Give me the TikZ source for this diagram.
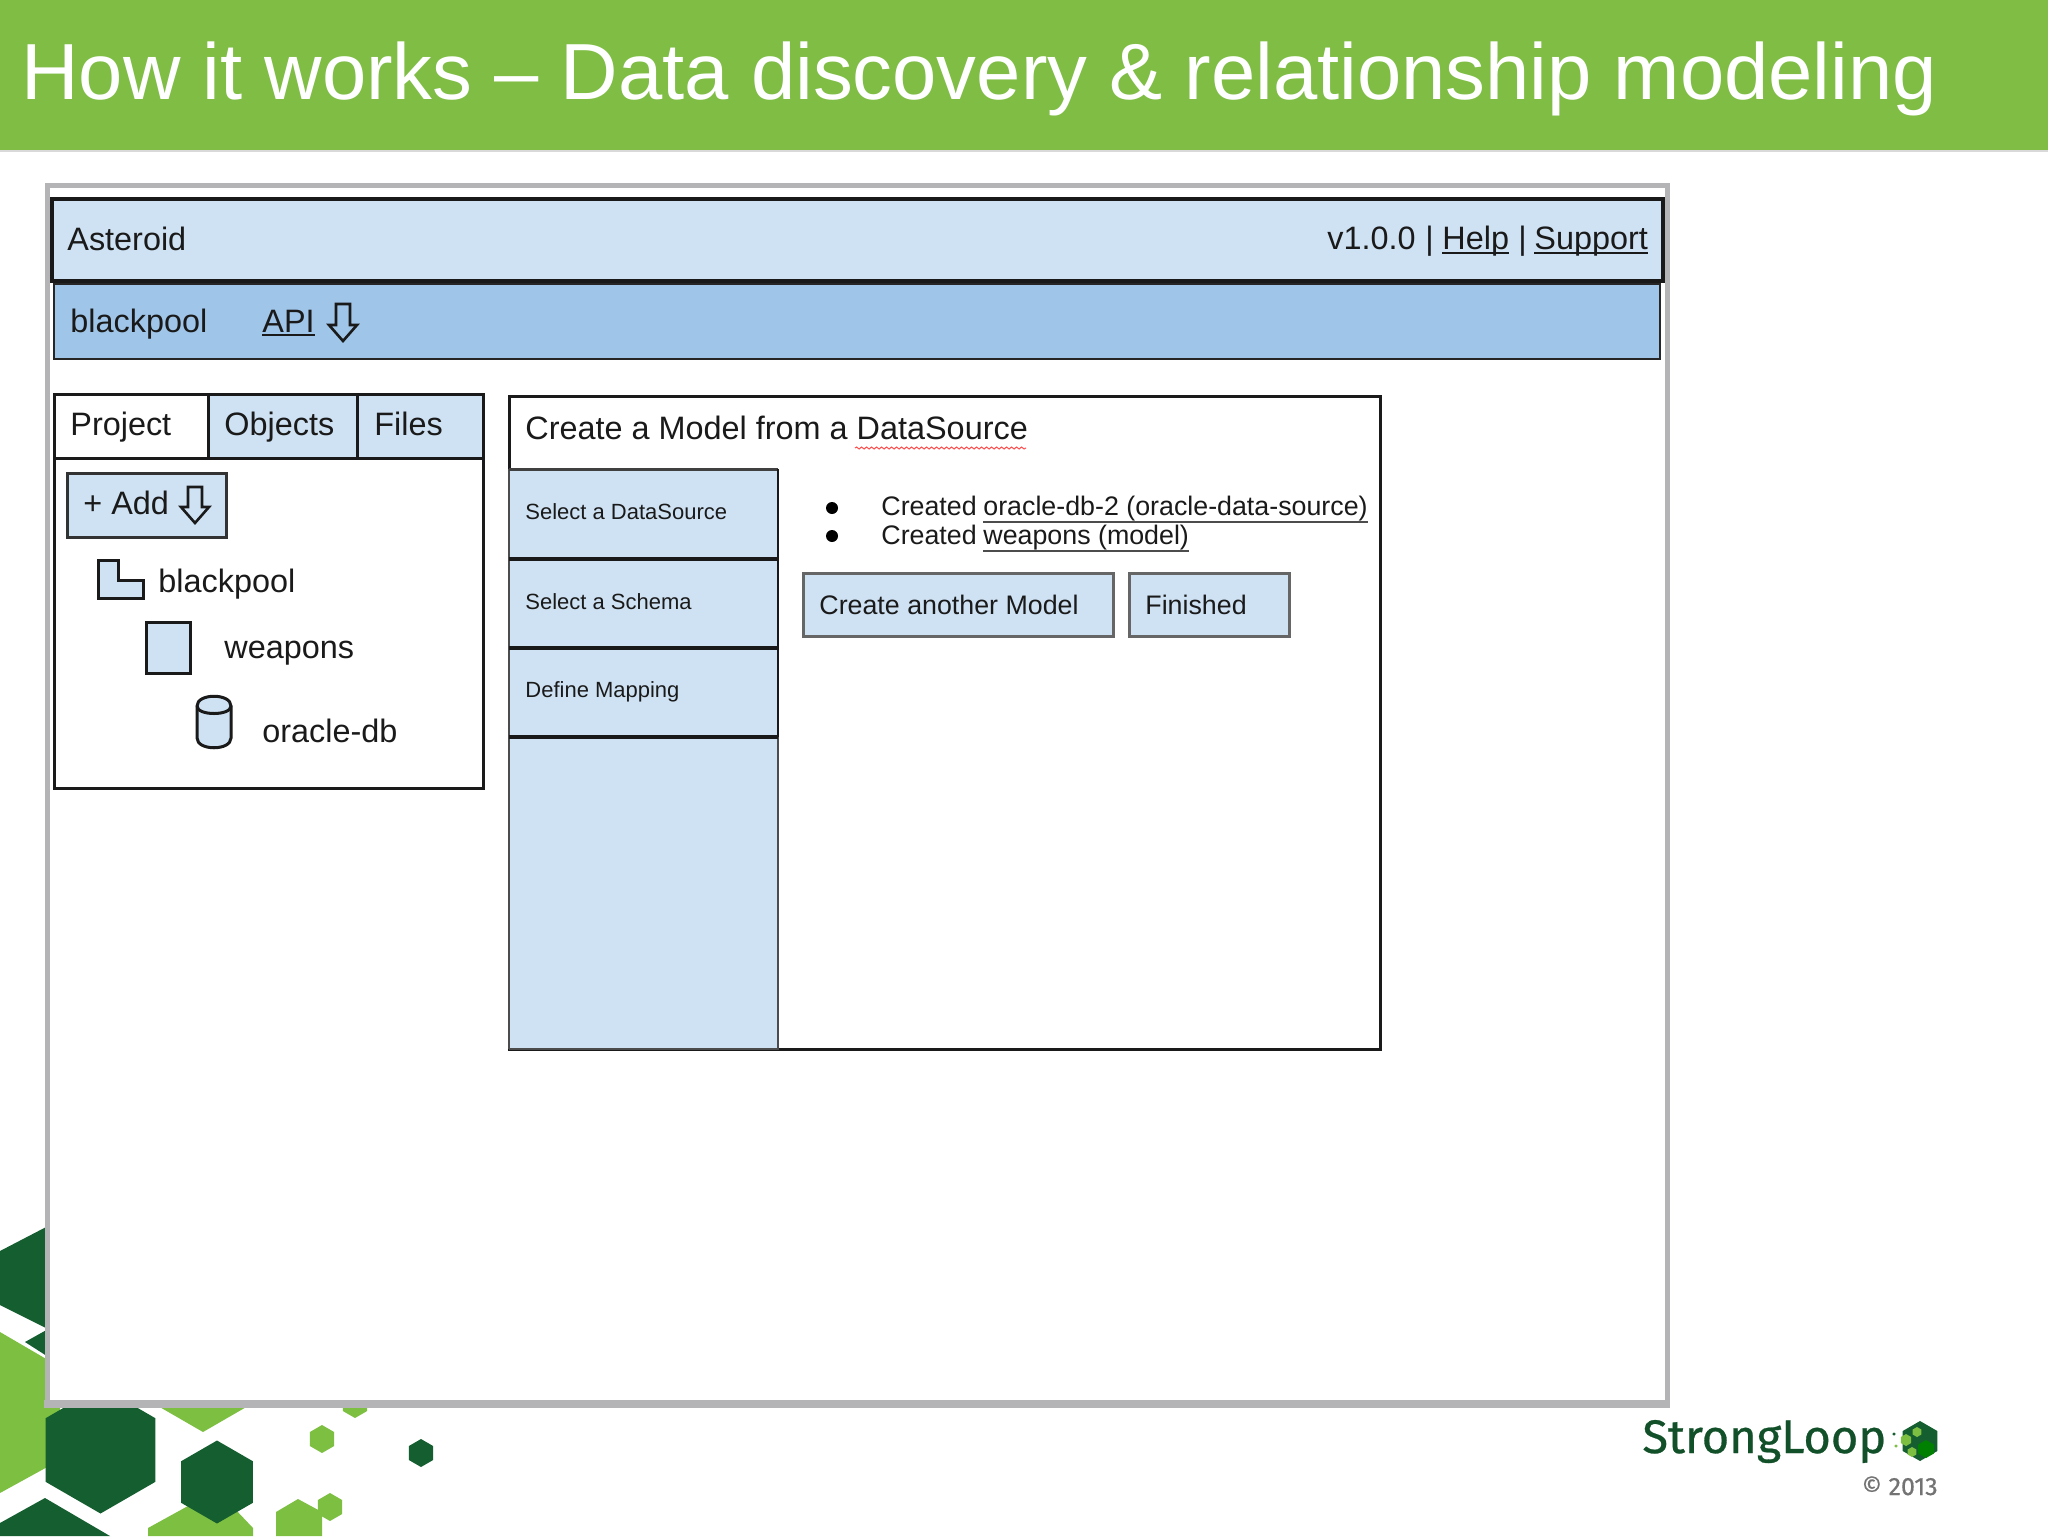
\documentclass[tikz,border=0pt]{standalone}
\usepackage{fontspec}
\setmainfont{Liberation Sans}
\newfontfamily\logofont[FakeBold=0.6]{Fira Sans}
\usetikzlibrary{decorations.pathmorphing}
\definecolor{slgreen}{HTML}{7FBD45}
\definecolor{sldark}{HTML}{155E30}
\definecolor{sllight}{HTML}{7CBF41}
\definecolor{paleblue}{HTML}{CFE2F3}
\definecolor{midblue}{HTML}{9FC5E8}
\definecolor{framegray}{HTML}{B4B4B6}
\definecolor{ink}{HTML}{1A1A1A}
\newcommand{\hexa}[4]{\fill[#4] (#1,#2) ++(0,{-#3}) -- ++({.866*#3},{.5*#3}) -- ++(0,{#3}) -- ++({-.866*#3},{.5*#3}) -- ++({-.866*#3},{-.5*#3}) -- ++(0,{-#3}) -- cycle;}
\newcommand{\downarr}[3]{\draw[arrowline] ({#1-7},#2) -- ({#1+7},#2) -- ({#1+7},{#3-16}) -- ({#1+14},{#3-16}) -- (#1,#3) -- ({#1-14},{#3-16}) -- ({#1-7},{#3-16}) -- cycle;}
\tikzset{
  lbl/.style={anchor=base west,inner sep=0pt,text=ink,font=\fontsize{16.2}{19}\selectfont},
  sidelbl/.style={lbl,font=\fontsize{11}{13}\selectfont},
  midlbl/.style={lbl,font=\fontsize{13.4}{16}\selectfont},
  ulnode/.style={draw=ink,line width=1pt},
  arrowline/.style={draw=ink,line width=1.3pt,line join=miter},
  panelline/.style={draw=ink,line width=1.5pt},
  darkline/.style={draw=black!90,line width=2pt},
  btnline/.style={draw=black!60,line width=1.5pt,fill=paleblue}
}
\begin{document}
\begin{tikzpicture}[x=0.5pt,y=-0.5pt]
\useasboundingbox (0,0) rectangle (2048,1536);
\fill[white] (0,0) rectangle (2048,1536);
% header
\fill[black!15] (0,150) rectangle (2048,152);
\fill[slgreen] (0,0) rectangle (2048,150);
\node[anchor=base west,inner sep=0pt,text=white,font=\fontsize{39.8}{46}\selectfont] (title) at (21,99) {How it works – Data discovery \& relationship modeling};
% hexagon decoration
\fill[sldark] (0,1251) -- (50,1225) -- (50,1330) -- (0,1305) -- cycle;
\fill[sldark] (25,1342) -- (50,1328) -- (50,1358) -- cycle;
\fill[sllight] (0,1332) -- (60,1367) -- (60,1460) -- (0,1493) -- cycle;
\fill[sldark] (0,1536) -- (0,1523) -- (45,1498) -- (110,1536) -- cycle;
\hexa{203}{1372}{60}{sllight}
\hexa{100.5}{1450}{63.5}{sldark}
\fill[sllight] (148,1536) -- (148,1528) -- (217,1490) -- (253,1528) -- (253,1536) -- cycle;
\hexa{217}{1482}{41.5}{sldark}
\hexa{322}{1439}{14}{sllight}
\hexa{355}{1404}{14}{sllight}
\hexa{421}{1453}{14}{sldark}
\fill[sllight] (276,1536) -- (276,1512) -- (298,1499) -- (322,1512) -- (322,1536) -- cycle;
\hexa{330}{1507}{14}{sllight}
% frame
\draw[draw=framegray,fill=white,line width=2.5pt] (47,185) -- (1667,185) -- (1667,1403) -- (47,1403) -- cycle;
\draw[draw=framegray,line width=4pt] (44,1404) -- (1670,1404);
% top bars
\draw[fill=paleblue,draw=black!90,line width=2pt] (52,199) rectangle (1663,281);
\draw[fill=midblue,draw=black!85,line width=1.3pt] (54,284) rectangle (1660,359);
\node[lbl] (asteroid) at (67,250) {Asteroid};
\node[lbl] (version) at (1327,249) {v1.0.0};
\node[lbl] (sepa) at (1425,249) {|};
\node[lbl] (help) at (1442,249) {Help};
\node[lbl] (sepb) at (1518,249) {|};
\node[lbl] (support) at (1534,249) {Support};
\draw[ulnode] ([yshift=-2.2pt]help.base west) -- ([yshift=-2.2pt]help.base east);
\draw[ulnode] ([yshift=-2.2pt]support.base west) -- ([yshift=-2.2pt]support.base east);
\node[lbl] (projname) at (70,332) {blackpool};
\node[lbl] (api) at (262,332) {API};
\draw[ulnode] ([yshift=-1.5pt]api.base west) -- ([yshift=-1.5pt]api.base east);
\downarr{343}{304}{341}
% project panel
\draw[fill=white,panelline] (54,458) rectangle (483,788);
\draw[panelline] (54,394) rectangle (208,458);
\draw[panelline,fill=paleblue] (208,394) rectangle (357,458);
\draw[panelline,fill=paleblue] (357,394) rectangle (483,458);
\node[lbl] (tabproject) at (70,435) {Project};
\node[lbl] (tabobjects) at (224,435) {Objects};
\node[lbl] (tabfiles) at (374,435) {Files};
\draw[panelline,fill=paleblue,draw=black!80] (67,473) rectangle (226,537);
\node[lbl] (addbtn) at (83,514) {+ Add};
\downarr{195}{487}{523}
\draw[panelline,fill=paleblue,line join=miter] (98,560) -- (118,560) -- (118,580) -- (143,580) -- (143,598) -- (98,598) -- cycle;
\node[lbl] (treeproj) at (158,592) {blackpool};
\draw[panelline,fill=paleblue] (146,622) rectangle (190,673);
\node[lbl] (treemodel) at (224,658) {weapons};
\draw[panelline,fill=paleblue] (197,706) .. controls (197,693) and (231,693) .. (231,706) -- (231,738) .. controls (231,751) and (197,751) .. (197,738) -- cycle;
\draw[panelline] (197,706) .. controls (197,716) and (231,716) .. (231,706);
\node[lbl] (treedb) at (262,742) {oracle-db};
% main panel
\draw[panelline,fill=white] (509,396) rectangle (1380,1049);
\fill[paleblue] (509,469) rectangle (778,1049);
\draw[draw=black!70,line width=1.2pt] (509,1049) -- (509,469) (778,469) -- (778,1049) -- (509,1049);
\draw[draw=black!75,line width=1.5pt] (509,469) -- (778,469);
\draw[darkline,line width=1.4pt] (778,469) -- (778,737);
\draw[darkline] (509,559) -- (778,559);
\draw[darkline] (509,648) -- (778,648);
\draw[darkline] (509,737) -- (778,737);
\node[lbl] (maintitle) at (525,439) {Create a Model from a DataSource};
\draw[draw=red!70!white,line width=.5pt,decorate,decoration={snake,amplitude=.5pt,segment length=2.5pt}] (855,448) -- (1026,448);
\node[sidelbl] (stepa) at (525,519.5) {Select a DataSource};
\node[sidelbl] (stepb) at (525,609.5) {Select a Schema};
\node[sidelbl] (stepc) at (525,697.5) {Define Mapping};
\fill[black] (832,508) circle (6);
\fill[black] (832,536) circle (6);
\node[midlbl] (createda) at (881,515) {Created};
\node[midlbl] (linka) at (983,515) {oracle-db-2 (oracle-data-source)};
\node[midlbl] (createdb) at (881,544) {Created};
\node[midlbl] (linkb) at (983,544) {weapons (model)};
\draw[ulnode,draw=black!70] ([yshift=-3.4pt]linka.base west) -- ([yshift=-3.4pt]linka.base east);
\draw[ulnode,draw=black!70] ([yshift=-3.4pt]linkb.base west) -- ([yshift=-3.4pt]linkb.base east);
\draw[btnline] (803,573) rectangle (1113,636);
\draw[btnline] (1129,573) rectangle (1289,636);
\node[midlbl] (btnanother) at (819,614) {Create another Model};
\node[midlbl] (btnfinished) at (1145,614) {Finished};
% logo
\node[anchor=base west,inner sep=0pt,text=sldark!85!black,font=\logofont\fontsize{23.5}{28}\selectfont] (logo) at (1642,1453) {StrongLoop};
\hexa{1920}{1441}{20}{sldark}
\hexa{1926}{1449}{9}{green!50!black}
\hexa{1906}{1440}{6}{sllight}
\hexa{1917}{1432}{5}{sllight}
\hexa{1912}{1452}{5}{sllight}
\hexa{1894}{1434}{1.5}{sldark}
\hexa{1896}{1446}{1.5}{sllight}
\node[anchor=base east,inner sep=0pt,text=black!55,font=\logofont\fontsize{12.5}{14}\selectfont] (copyright) at (1938,1495) {© 2013};
\end{tikzpicture}
\end{document}
